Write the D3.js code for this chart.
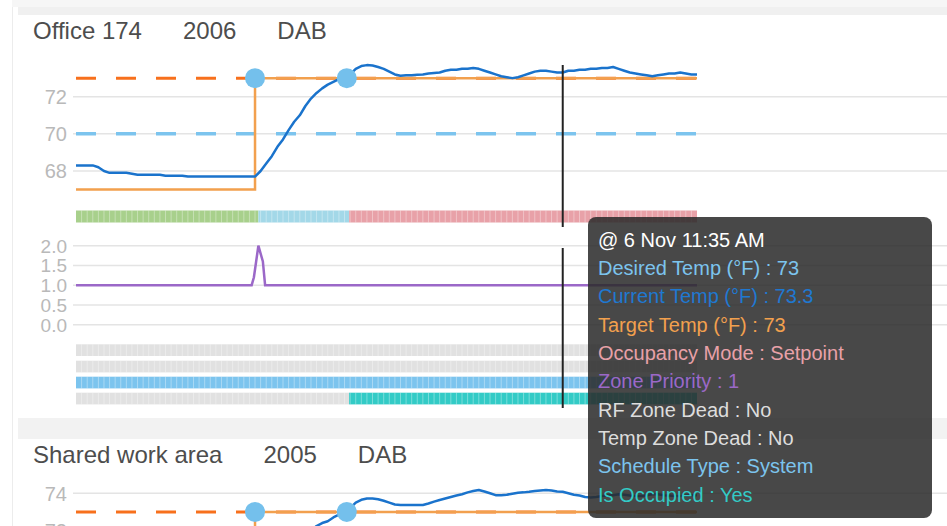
<!DOCTYPE html>
<html><head><meta charset="utf-8">
<script src="https://cdn.jsdelivr.net/npm/d3@7"></script>
<style>
html,body{margin:0;padding:0;background:#fff;overflow:hidden;}
svg{display:block;font-family:"Liberation Sans",Arial,Helvetica,sans-serif;}
</style></head><body>
<svg id="chart" width="947" height="526"></svg>
<script>
// ---------------- DATA ----------------
const dayDate = "2017-11-06";
const domainStart = "04:20";
const domainEnd = "13:35";
const sampleStepMin = 5;

const panelTitles = [["Office 174", "2006", "DAB"], ["Shared work area", "2005", "DAB"]];

// current temperature, every 5 minutes from 04:20
const currentTemp1 = [
  68.3,68.3,68.3,68.3,68.2,68.0,67.9,67.9,67.9,67.9,
  67.85,67.8,67.8,67.8,67.8,67.8,67.75,67.75,67.75,67.75,
  67.7,67.7,67.7,67.7,67.7,67.7,67.7,67.7,67.7,67.7,
  67.7,67.7,67.7,68.0,68.4,68.8,69.3,69.7,70.2,70.65,
  71.0,71.5,71.9,72.2,72.45,72.65,72.8,72.95,73.05,73.2,
  73.5,73.65,73.7,73.68,73.6,73.5,73.35,73.2,73.13,73.15,
  73.15,73.18,73.2,73.25,73.28,73.3,73.4,73.45,73.45,73.5,
  73.5,73.55,73.5,73.4,73.3,73.2,73.1,73.05,73.0,73.05,
  73.15,73.25,73.35,73.4,73.4,73.35,73.3,73.3,73.4,73.4,
  73.45,73.45,73.5,73.5,73.55,73.55,73.6,73.5,73.4,73.3,
  73.25,73.2,73.15,73.1,73.15,73.2,73.25,73.25,73.3,73.25,
  73.2,73.2
];
const currentTemp2 = [
  67.6,67.6,67.6,67.55,67.5,67.5,67.5,67.5,67.45,67.45,
  67.45,67.4,67.4,67.4,67.4,67.4,67.4,67.4,67.35,67.35,
  67.35,67.35,67.35,67.3,67.3,67.3,67.3,67.3,67.3,67.3,
  67.3,67.3,67.8,68.2,68.7,69.2,69.7,70.2,70.7,71.1,
  71.5,71.8,72.0,72.24,72.4,72.5,72.7,72.85,73.0,73.2,
  73.5,73.65,73.72,73.72,73.68,73.6,73.5,73.4,73.37,73.37,
  73.37,73.37,73.37,73.45,73.55,73.64,73.72,73.8,73.88,73.95,
  74.05,74.12,74.18,74.1,74.0,73.9,73.9,73.92,73.98,74.03,
  74.05,74.08,74.12,74.15,74.18,74.15,74.1,74.08,74.0,73.92,
  73.88,73.8,73.78,73.8,73.85,73.9,73.9,73.95,73.92,73.88,
  73.85,73.85,73.9,73.95,73.95,73.9,73.88,73.85,73.85,73.88,
  73.9,73.9
];

// target temperature (step)
const targetTimes = ["04:20", "07:00", "13:35"];
const targetValues1 = [67, 73, 73];
const targetValues2 = [67, 73, 73];

// setpoints
const coolSetpoint = 73;   // dashed orange
const heatSetpoint = 70;   // dashed light blue
const markerTimes = ["07:00", "08:22"];
const markerValues = [73, 73];

// zone priority
const priorityTimes = ["04:20", "06:57", "06:59", "07:01", "07:03", "07:05", "07:07", "07:09", "13:35"];
const priorityValues = [1, 1, 1.2, 1.6, 2.0, 1.8, 1.6, 1, 1];

// state rows: [from, to, state]
const occupancyMode = [["04:20", "07:03", "Unoccupied"], ["07:03", "08:24", "Recovery"], ["08:24", "13:35", "Setpoint"]];
const rfZoneDead = [["04:20", "13:35", "No"]];
const tempZoneDead = [["04:20", "13:35", "No"]];
const scheduleType = [["04:20", "13:35", "System"]];
const isOccupied = [["04:20", "08:24", "No"], ["08:24", "13:35", "Yes"]];

const tempTicks1 = [68, 70, 72];
const tempTicks2 = [72, 74];
const priorityTicks = [0, 0.5, 1.0, 1.5, 2.0];

const hoverTime = "11:35";
const tooltipLabels = ["Desired Temp (°F)", "Current Temp (°F)", "Target Temp (°F)", "Occupancy Mode",
  "Zone Priority", "RF Zone Dead", "Temp Zone Dead", "Schedule Type", "Is Occupied"];
const tooltipValues = ["73", "73.3", "73", "Setpoint", "1", "No", "No", "System", "Yes"];

// ---------------- STYLE ----------------
const C = {
  current: "#1a73cc", target: "#f2a04e", cool: "#f7701c", heat: "#7cc4ee", marker: "#74c0ec",
  priority: "#9b68c8", grid: "#e4e4e4", tick: "#b9b9b9", title: "#4d4d4d",
  state: {Unoccupied: "#a8d08c", Recovery: "#a3d8e8", Setpoint: "#e8a1a8", No: "#e1e1e1",
          System: "#7cc4ee", Yes: "#33cbc6"}
};
const tipColors = ["#7cc4ee", "#1f78d1", "#f2a04e", "#e8a1a8", "#9b68c8", "#dddddd", "#dddddd", "#7cc4ee", "#33cbc6"];

// ---------------- HELPERS ----------------
const parseT = d3.timeParse("%Y-%m-%d %H:%M");
const T = s => parseT(dayDate + " " + s);
const t0 = T(domainStart), t1 = T(domainEnd);
const sampleTimes = n => d3.range(n).map(i => d3.timeMinute.offset(t0, i * sampleStepMin));

const svg = d3.select("#chart");
const x = d3.scaleTime().domain([t0, t1]).range([76, 697]);

// ---------------- BACKGROUND ----------------
svg.append("rect").attr("x", 12).attr("y", 0).attr("width", 935).attr("height", 7).attr("fill", "#f6f6f6");
svg.append("rect").attr("x", 18).attr("y", 7).attr("width", 929).attr("height", 8).attr("fill", "#f0f0f0");
svg.append("rect").attr("x", 18).attr("y", 418).attr("width", 929).attr("height", 21).attr("fill", "#f2f2f2");
svg.append("line").attr("x1", 12.5).attr("x2", 12.5).attr("y1", 7).attr("y2", 526).attr("stroke", "#ececec");

// ---------------- FUNCTIONS ----------------
function titleRow(items, baseline) {
  let cx = 33;
  items.forEach(s => {
    const t = svg.append("text").attr("x", cx).attr("y", baseline).attr("font-size", 24)
      .attr("fill", C.title).text(s);
    cx += t.node().getComputedTextLength() + 41;
  });
}
function grid(y, ticks, fmt, fs) {
  const g = svg.append("g");
  ticks.forEach(v => {
    g.append("line").attr("x1", 73).attr("x2", 947).attr("y1", y(v)).attr("y2", y(v))
      .attr("stroke", C.grid).attr("stroke-width", 1.5);
    g.append("text").attr("x", 67).attr("y", y(v)).attr("dy", "0.36em").attr("text-anchor", "end")
      .attr("font-size", fs).attr("fill", C.tick).text(fmt(v));
  });
}
function tempPanel(y, current, targetVals, drawHeat) {
  const g = svg.append("g");
  if (drawHeat) g.append("line").attr("x1", x(t0)).attr("x2", x(t1)).attr("y1", y(heatSetpoint)).attr("y2", y(heatSetpoint))
    .attr("stroke", C.heat).attr("stroke-width", 3.5).attr("stroke-dasharray", "20,20");
  g.append("line").attr("x1", x(t0)).attr("x2", x(t1)).attr("y1", y(coolSetpoint)).attr("y2", y(coolSetpoint))
    .attr("stroke", C.cool).attr("stroke-width", 3).attr("stroke-dasharray", "20,20");
  const tt = targetTimes.map(T);
  g.append("path").datum(targetVals.map((v, i) => [tt[i], v]))
    .attr("d", d3.line().x(d => x(d[0])).y(d => y(d[1])).curve(d3.curveStepAfter))
    .attr("fill", "none").attr("stroke", C.target).attr("stroke-width", 2.5);
  const st = sampleTimes(current.length);
  g.append("path").datum(current.map((v, i) => [st[i], v]))
    .attr("d", d3.line().x(d => x(d[0])).y(d => y(d[1])))
    .attr("fill", "none").attr("stroke", C.current).attr("stroke-width", 2.5).attr("stroke-linejoin", "round");
  g.selectAll("circle.m").data(markerTimes.map((t, i) => [T(t), markerValues[i]])).join("circle")
    .attr("cx", d => x(d[0])).attr("cy", d => y(d[1])).attr("r", 10).attr("fill", C.marker);
}
function stateRow(segs, y0, h) {
  const g = svg.append("g");
  g.selectAll("rect").data(segs).join("rect")
    .attr("x", d => x(T(d[0]))).attr("width", d => x(T(d[1])) - x(T(d[0])))
    .attr("y", y0).attr("height", h).attr("fill", d => C.state[d[2]]);
  const cells = d3.timeMinute.every(sampleStepMin).range(d3.timeMinute.offset(t0, sampleStepMin), t1);
  g.selectAll("line").data(cells).join("line")
    .attr("x1", d => x(d)).attr("x2", d => x(d)).attr("y1", y0).attr("y2", y0 + h)
    .attr("stroke", "#fff").attr("stroke-opacity", 0.35).attr("stroke-width", 1);
}

// ---------------- PANEL 1 ----------------
titleRow(panelTitles[0], 39);
const y1 = d3.scaleLinear().domain([68, 72]).range([171, 96.7]);
grid(y1, tempTicks1, d3.format("d"), 20);
tempPanel(y1, currentTemp1, targetValues1, true);

stateRow(occupancyMode, 210.5, 12);

const yp = d3.scaleLinear().domain([0, 2]).range([324.7, 245.7]);
grid(yp, priorityTicks, d3.format(".1f"), 19);
svg.append("path").datum(priorityTimes.map((t, i) => [T(t), priorityValues[i]]))
  .attr("d", d3.line().x(d => x(d[0])).y(d => yp(d[1])))
  .attr("fill", "none").attr("stroke", C.priority).attr("stroke-width", 2.5);

stateRow(rfZoneDead, 344.3, 11.7);
stateRow(tempZoneDead, 360.7, 11.7);
stateRow(scheduleType, 376.7, 11.7);
stateRow(isOccupied, 392.7, 11.7);

// hover line
const hx = x(T(hoverTime));
svg.append("line").attr("x1", hx).attr("x2", hx).attr("y1", 65).attr("y2", 227).attr("stroke", "#222").attr("stroke-width", 2);
svg.append("line").attr("x1", hx).attr("x2", hx).attr("y1", 248).attr("y2", 408).attr("stroke", "#222").attr("stroke-width", 2);

// ---------------- PANEL 2 ----------------
titleRow(panelTitles[1], 463);
const y2 = d3.scaleLinear().domain([72, 74]).range([530.5, 493.3]);
grid(y2, tempTicks2, d3.format("d"), 20);
tempPanel(y2, currentTemp2, targetValues2, false);

// ---------------- TOOLTIP ----------------
const tip = svg.append("g");
tip.append("rect").attr("x", 588).attr("y", 217).attr("width", 344).attr("height", 301).attr("rx", 8)
  .attr("fill", "#2a2a2a").attr("fill-opacity", 0.86);
const fmtTip = d3.timeFormat("@ %-d %b %-I:%M %p");
tip.append("text").attr("x", 598).attr("y", 246.7).attr("font-size", 20).attr("fill", "#fff").text(fmtTip(T(hoverTime)));
tooltipLabels.forEach((l, i) => {
  tip.append("text").attr("x", 598).attr("y", 246.7 + 28.33 * (i + 1)).attr("font-size", 20)
    .attr("fill", tipColors[i]).text(l + " : " + tooltipValues[i]);
});
</script>
</body></html>
